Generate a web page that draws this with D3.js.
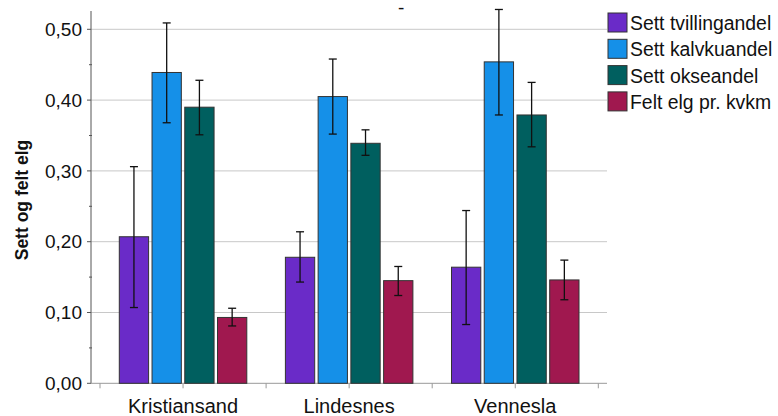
<!DOCTYPE html>
<html>
<head>
<meta charset="utf-8">
<script src="https://cdn.jsdelivr.net/npm/d3@7"></script>
<style>
  body { margin: 0; background: #fff; }
  text { font-family: "Liberation Sans", Arial, sans-serif; }
</style>
</head>
<body>
<script>
const categories = ["Kristiansand", "Lindesnes", "Vennesla"];
const series = ["Sett tvillingandel", "Sett kalvkuandel", "Sett okseandel", "Felt elg pr. kvkm"];
const colors = ["#6a2bc8", "#1590e8", "#005f5f", "#a0184f"];

// mean, lower and upper of the error bar, one row per series, one value per category
const means = [
  [0.207, 0.178, 0.164],
  [0.439, 0.405, 0.454],
  [0.390, 0.339, 0.379],
  [0.093, 0.145, 0.146]
];
const lows = [
  [0.107, 0.143, 0.083],
  [0.368, 0.352, 0.379],
  [0.351, 0.322, 0.334],
  [0.081, 0.124, 0.118]
];
const highs = [
  [0.306, 0.214, 0.244],
  [0.509, 0.458, 0.528],
  [0.428, 0.358, 0.425],
  [0.106, 0.165, 0.174]
];
const yTicks = [0, 0.1, 0.2, 0.3, 0.4, 0.5];

const width = 778, height = 416;
const x0 = 100, x1 = 598.3, axisLeft = 91, axisRight = 607;
const yBottom = 383.3, yTop = 29.3;

const svg = d3.select("body").append("svg")
  .attr("width", width).attr("height", height);

const x = d3.scaleBand().domain(categories).range([x0, x1]).paddingInner(0).paddingOuter(0);
const xs = d3.scaleBand().domain(series).range([19.3, x.bandwidth() - 19.3]).paddingInner(0.105);
const y = d3.scaleLinear().domain([0, 0.5]).range([yBottom, yTop]);

const fmt = d => d3.format(".2f")(d).replace(".", ",");

// gridlines
svg.append("g")
  .selectAll("line")
  .data(yTicks.slice(1))
  .join("line")
  .attr("x1", axisLeft).attr("x2", axisRight)
  .attr("y1", d => y(d)).attr("y2", d => y(d))
  .attr("stroke", "#c8c8c8").attr("stroke-width", 1);

// y axis
const yAxis = svg.append("g").attr("transform", `translate(${axisLeft},0)`);
yAxis.append("line").attr("x1", 0).attr("x2", 0).attr("y1", 11).attr("y2", yBottom)
  .attr("stroke", "#555");
yAxis.selectAll(".major").data(yTicks).join("line")
  .attr("x1", -4).attr("x2", 0).attr("y1", d => y(d)).attr("y2", d => y(d))
  .attr("stroke", "#555");
yAxis.selectAll(".minor").data(d3.range(0.05, 0.5, 0.1)).join("line")
  .attr("x1", -2).attr("x2", 1).attr("y1", d => y(d)).attr("y2", d => y(d))
  .attr("stroke", "#555");
yAxis.selectAll("text").data(yTicks).join("text")
  .attr("x", -9).attr("y", d => y(d)).attr("dy", "0.35em")
  .attr("text-anchor", "end").attr("font-size", 19).attr("fill", "#111")
  .text(fmt);

// x axis
const xAxis = svg.append("g");
xAxis.append("line").attr("x1", axisLeft).attr("x2", axisRight)
  .attr("y1", yBottom).attr("y2", yBottom).attr("stroke", "#999");
const xTickPos = [x0].concat(categories.flatMap(c => [x(c) + x.bandwidth() / 2, x(c) + x.bandwidth()]));
xAxis.selectAll(".tick").data(xTickPos).join("line")
  .attr("x1", d => d).attr("x2", d => d)
  .attr("y1", yBottom).attr("y2", yBottom + 5)
  .attr("stroke", "#999");
xAxis.selectAll("text").data(categories).join("text")
  .attr("x", d => x(d) + x.bandwidth() / 2).attr("y", 413)
  .attr("text-anchor", "middle").attr("font-size", 20).attr("fill", "#111")
  .text(d => d);

// bars
const rows = [];
categories.forEach((c, ci) => series.forEach((s, si) => {
  rows.push({ c, s, si, v: means[si][ci], lo: lows[si][ci], hi: highs[si][ci] });
}));

const bars = svg.append("g");
bars.selectAll("rect").data(rows).join("rect")
  .attr("x", d => x(d.c) + xs(d.s))
  .attr("y", d => y(d.v))
  .attr("width", xs.bandwidth())
  .attr("height", d => y(0) - y(d.v))
  .attr("fill", d => colors[d.si])
  .attr("stroke", "#333").attr("stroke-width", 1);

// error bars
const err = svg.append("g").attr("stroke", "#111").attr("stroke-width", 1.3);
const cx = d => x(d.c) + xs(d.s) + xs.bandwidth() / 2;
err.selectAll(".v").data(rows).join("line")
  .attr("x1", cx).attr("x2", cx)
  .attr("y1", d => y(d.lo)).attr("y2", d => y(d.hi));
err.selectAll(".t").data(rows).join("line")
  .attr("x1", d => cx(d) - 4).attr("x2", d => cx(d) + 4)
  .attr("y1", d => y(d.hi)).attr("y2", d => y(d.hi));
err.selectAll(".b").data(rows).join("line")
  .attr("x1", d => cx(d) - 4).attr("x2", d => cx(d) + 4)
  .attr("y1", d => y(d.lo)).attr("y2", d => y(d.lo));

// y title
svg.append("text")
  .attr("transform", "translate(28,200) rotate(-90)")
  .attr("text-anchor", "middle").attr("font-size", 17.5).attr("font-weight", "bold")
  .attr("fill", "#111")
  .text("Sett og felt elg");

// stray title mark at top
svg.append("text").attr("x", 398).attr("y", 14).attr("font-size", 19).attr("fill", "#111").text("-");

// legend
const legend = svg.append("g").attr("transform", "translate(608,13)");
const item = legend.selectAll("g").data(series).join("g")
  .attr("transform", (d, i) => `translate(0,${i * 26.3})`);
item.append("rect").attr("width", 19).attr("height", 19)
  .attr("fill", (d, i) => colors[i]).attr("stroke", "#333");
item.append("text").attr("x", 22).attr("y", 17).attr("font-size", 19.4).attr("fill", "#111")
  .text(d => d);
</script>
</body>
</html>
